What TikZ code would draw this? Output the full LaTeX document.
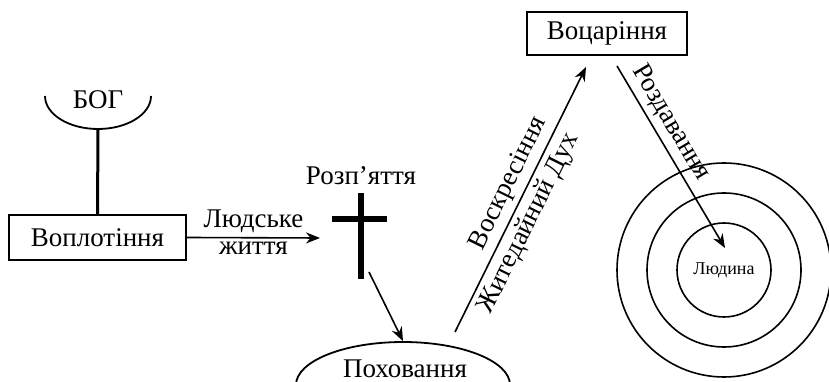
\documentclass[tikz,border=0pt]{standalone}
\usepackage{fontspec}
\setmainfont{Liberation Serif}
\usetikzlibrary{arrows.meta,shapes.geometric}
\begin{document}
\begin{tikzpicture}[x=1pt,y=1pt,font=\fontsize{27}{31}\selectfont,
		bx/.style={draw,line width=1.8pt,rectangle,inner sep=0pt},
		ar/.style={line width=1.6pt,-{Stealth[length=14pt,width=11pt]}},
		rg/.style={draw,line width=1.6pt,circle,inner sep=0pt}]
	\useasboundingbox (0,0) rectangle (829,382);
	% top: god and incarnation
	\node (bog) at (98,282) {БОГ};
	\draw[line width=1.8pt] (45,286) arc[start angle=180,end angle=360,x radius=53,y radius=33];
	\coordinate (bogb) at (98,253);
	\node[bx,minimum width=177pt,minimum height=45pt] (vopl) at (97.5,144.5) {Воплотіння};
	\draw[line width=3pt] (bogb) -- (vopl.north);
	\coordinate (life) at (320,144);
	\draw[ar] (vopl.east) -- node[above,inner sep=4pt]{Людське} node[below,inner sep=4pt]{життя} (life);
	% cross
	\node (rozp) at (361,206) {Розп’яття};
	\fill (358,103) rectangle (364,189);
	\fill (332,160) rectangle (387,166);
	\coordinate (crb) at (369,110);
	\node[draw,ellipse,line width=1.8pt,minimum width=214pt,minimum height=86pt] (poh) at (403,-3) {};
	\node at (405,13) {Поховання};
	\draw[ar] (crb) -- (poh.north);
	% resurrection and reign
	\node[bx,minimum width=160pt,minimum height=43pt] (voc) at (607,348.5) {Воцаріння};
	\coordinate (pohr) at (455,50);
	\coordinate (vocl) at (586,315);
	\draw[ar] (pohr) -- node[pos=0.53,sloped,above,inner sep=5pt]{Воскресіння}
		node[pos=0.44,sloped,below,inner sep=5pt]{Житедайний Дух} (vocl);
	% man
	\node[rg,minimum size=214pt] (c3) at (724,112) {};
	\node[rg,minimum size=154pt] (c2) at (724,112) {};
	\node[rg,minimum size=94pt,font=\fontsize{18}{21}\selectfont] (c1) at (724,112) {Людина};
	\coordinate (vocr) at (617,316);
	\coordinate (man) at (725,134);
	\draw[ar] (vocr) -- node[pos=0.36,sloped,above,inner sep=5pt]{Роздавання} (man);
\end{tikzpicture}
\end{document}
